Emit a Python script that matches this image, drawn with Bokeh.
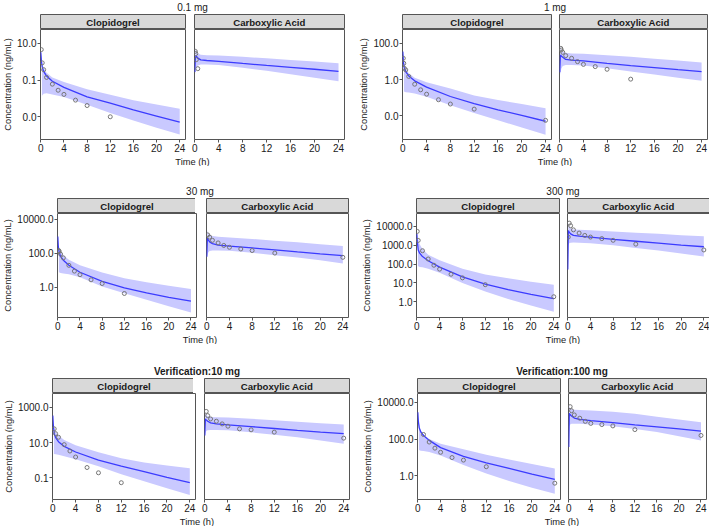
import numpy as np
from bokeh.plotting import figure
from bokeh.layouts import row, column
from bokeh.models import Range1d, FixedTicker, PrintfTickFormatter, Spacer
from bokeh.core.properties import value
from bokeh.embed import file_html
from bokeh.resources import INLINE

FONT = "Liberation Sans"

# ---------------- data ----------------
MODEL_T = [0, 0.1, 0.25, 0.5, 1, 2, 4, 8, 12, 16, 20, 24]
CLOP_BAND_T = [0.2, 0.5, 1, 2, 4, 8, 12, 16, 20, 24]
ACID_BAND_T = [0.1, 0.25, 0.5, 1, 2, 4, 8, 12, 16, 20, 24]
X_TICKS = [0, 4, 8, 12, 16, 20, 24]

FACETS = ["Clopidogrel", "Carboxylic Acid"]
TITLES = ["0.1 mg", "1 mg", "30 mg", "300 mg", "Verification:10 mg", "Verification:100 mg"]

# 0.1 mg
d01_clop_line = [3.3, 1.17, 0.51, 0.30, 0.166, 0.087, 0.040, 0.0123, 0.0055, 0.0024, 0.0011, 0.00051]
d01_clop_hi = [0.89, 0.45, 0.25, 0.14, 0.079, 0.032, 0.016, 0.0079, 0.0047, 0.0027]
d01_clop_lo = [0.014, 0.018, 0.019, 0.0166, 0.012, 0.0045, 0.0016, 0.00063, 0.00025, 0.000107]
d01_clop_obs_t = [0.083, 0.25, 0.5, 1, 2, 3, 4, 6, 8, 12]
d01_clop_obs = [4.6, 0.87, 0.37, 0.14, 0.060, 0.028, 0.0166, 0.0081, 0.0041, 0.0010]
d01_acid_line = [0.28, 1.78, 2.0, 1.58, 1.26, 1.17, 1.05, 0.81, 0.63, 0.50, 0.39, 0.30]
d01_acid_hi = [5.6, 3.5, 2.8, 2.4, 2.3, 2.2, 1.86, 1.55, 1.26, 1.02, 0.83]
d01_acid_lo = [0.2, 0.45, 0.63, 0.71, 0.71, 0.66, 0.47, 0.32, 0.21, 0.135, 0.087]
d01_acid_obs_t = [0.083, 0.167, 0.25, 0.5]
d01_acid_obs = [3.7, 2.8, 1.3, 0.42]

# 1 mg
d1_clop_line = [35, 9.8, 4.2, 2.75, 1.58, 0.85, 0.38, 0.115, 0.046, 0.021, 0.0105, 0.0049]
d1_clop_hi = [7.9, 4.0, 2.24, 1.26, 0.71, 0.32, 0.13, 0.074, 0.044, 0.026]
d1_clop_lo = [0.22, 0.2, 0.19, 0.166, 0.112, 0.038, 0.014, 0.0056, 0.0022, 0.00089]
d1_clop_obs_t = [0.083, 0.167, 0.25, 0.5, 1, 2, 3, 4, 6, 8, 12, 24]
d1_clop_obs = [15, 7.9, 4.2, 3.4, 1.48, 0.55, 0.27, 0.155, 0.076, 0.044, 0.023, 0.0055]
d1_acid_line = [2.5, 23, 20, 17, 13, 12, 10.7, 7.9, 5.9, 4.6, 3.5, 2.75]
d1_acid_hi = [71, 45, 35, 30, 28, 27, 22, 18, 14, 11.2, 8.7]
d1_acid_lo = [1.78, 4.0, 5.6, 6.3, 6.3, 5.9, 4.2, 2.8, 1.9, 1.26, 0.85]
d1_acid_obs_t = [0.167, 0.25, 0.5, 1, 2, 3, 4, 6, 8, 12]
d1_acid_obs = [53, 43, 32, 21, 15, 9.8, 6.9, 5.2, 3.7, 1.05]

# 30 mg
d30_clop_line = [1000, 250, 115, 68, 40, 20, 7.8, 2.3, 0.95, 0.48, 0.26, 0.155]
d30_clop_hi = [224, 126, 79, 42, 20, 7.6, 3.5, 2.0, 1.26, 0.81]
d30_clop_lo = [7.9, 7.1, 6.6, 6.0, 4.0, 1.12, 0.45, 0.19, 0.079, 0.034]
d30_clop_obs_t = [0.167, 0.25, 0.5, 1, 2, 3, 4, 6, 8, 12]
d30_clop_obs = [148, 130, 91, 55, 20, 9.1, 5.6, 2.8, 1.7, 0.44]
d30_acid_line = [63, 790, 650, 480, 380, 310, 270, 210, 162, 123, 95, 74]
d30_acid_hi = [2240, 1580, 1260, 1070, 950, 870, 710, 560, 450, 350, 270]
d30_acid_lo = [68, 112, 141, 151, 151, 145, 110, 79, 58, 40, 26]
d30_acid_obs_t = [0.167, 0.5, 1, 2, 3, 4, 6, 8, 12, 24]
d30_acid_obs = [1230, 910, 590, 415, 295, 230, 183, 148, 105, 59]

# 300 mg
d300_clop_line = [4000, 1500, 560, 380, 250, 150, 69, 21, 8.7, 4.4, 2.5, 1.48]
d300_clop_hi = [2500, 1120, 630, 316, 158, 56, 28, 17.8, 11.7, 8.1]
d300_clop_lo = [79, 71, 68, 56, 35, 10, 3.5, 1.41, 0.63, 0.30]
d300_clop_obs_t = [0.083, 0.25, 1, 2, 3, 4, 6, 8, 12, 24]
d300_clop_obs = [5400, 1800, 510, 186, 87, 54, 29, 18.6, 8.1, 1.86]
d300_acid_line = [52, 6000, 4900, 4000, 3300, 3000, 2700, 2040, 1620, 1290, 1000, 830]
d300_acid_hi = [15800, 10000, 7900, 6900, 6500, 6200, 5400, 4600, 4000, 3400, 2950]
d300_acid_lo = [1000, 1260, 1350, 1380, 1350, 1260, 1000, 720, 525, 363, 250]
d300_acid_obs_t = [0.083, 0.25, 0.5, 1, 2, 3, 4, 6, 8, 12, 24]
d300_acid_obs = [2700, 14800, 10800, 6500, 4400, 3300, 2700, 2240, 1820, 1140, 560]

# Verification 10 mg
v10_clop_line = [340, 93, 32, 19, 11.2, 6.0, 2.9, 1.0, 0.46, 0.22, 0.105, 0.052]
v10_clop_hi = [71, 40, 25, 14.1, 7.1, 2.8, 1.26, 0.74, 0.5, 0.34]
v10_clop_lo = [2.24, 2.14, 2.0, 1.66, 1.12, 0.45, 0.158, 0.063, 0.025, 0.0105]
v10_clop_obs_t = [0.25, 0.5, 1, 2, 3, 4, 6, 8, 12]
v10_clop_obs = [60, 32, 20, 7.6, 3.3, 1.5, 0.38, 0.19, 0.052]
v10_acid_line = [25, 220, 195, 163, 132, 115, 100, 81, 63, 49, 39, 32]
v10_acid_hi = [525, 380, 316, 288, 275, 263, 224, 186, 151, 126, 105]
v10_acid_lo = [32, 45, 50, 52, 52, 50, 38, 28, 20, 13.2, 8.5]
v10_acid_obs_t = [0.25, 0.5, 1, 2, 3, 4, 6, 8, 12, 24]
v10_acid_obs = [590, 340, 220, 163, 115, 85, 60, 53, 39, 17.8]

# Verification 100 mg
v100_clop_line = [2900, 930, 410, 257, 158, 85, 34, 11.5, 5.0, 2.5, 1.23, 0.63]
v100_clop_hi = [710, 316, 178, 100, 56, 28, 14.1, 7.6, 4.3, 2.5]
v100_clop_lo = [25, 23, 22, 20, 12.6, 3.8, 1.32, 0.52, 0.22, 0.102]
v100_clop_obs_t = [1, 2, 3, 4, 6, 8, 12, 24]
v100_clop_obs = [178, 69, 32, 19, 9.8, 7.1, 3.1, 0.39]
v100_acid_line = [37, 2570, 2140, 1820, 1410, 1200, 1020, 790, 590, 470, 360, 270]
v100_acid_hi = [6600, 5000, 4300, 4000, 3900, 3700, 3160, 2400, 1660, 1170, 830]
v100_acid_lo = [500, 630, 680, 690, 680, 630, 500, 355, 240, 141, 85]
v100_acid_obs_t = [0.25, 0.5, 1, 2, 3, 4, 6, 8, 12, 24]
v100_acid_obs = [5900, 3550, 2090, 1380, 930, 720, 620, 525, 330, 158]

Y_TICKS = [
    [10, 0.1, 0.001],
    [100, 1, 0.01],
    [10000, 100, 1],
    [10000, 1000, 100, 10, 1],
    [1000, 10, 0.1],
    [10000, 100, 1],
]

# ---------------- layout / styling ----------------
# log10 y limits per group
Y_LIMS = [(-4.24, 1.76), (-3.32, 2.77), (-1.77, 4.35), (-0.83, 4.68), (-2.24, 3.79), (-1.30, 4.49)]
# left border, left frame width, facet gap, right frame width, right pad
GEOM = [(40, 145, 9, 150, 10), (48, 149, 8, 148, 2),
        (54, 139, 10, 142, 9), (59, 143, 8, 142, 3),
        (48, 143, 9, 145, 9), (59, 143, 8, 138, 7)]
FRAME_H = [110, 104, 106]
ROW_GAP = [18, 20]
TITLE_H = 14
STRIP_H = 15
AXIS_B = 16
XLAB_H = 11
TITLE_BOLD = [False, False, False, False, True, True]

RIBBON = "#c9c9ff"
LINE = "#3b3bff"
POINT = "#767676"
BORDER = "#555555"
STRIP = "#d9d9d9"
TXT = "#1a1a1a"

def series(prefix):
    g = globals()
    out = []
    for sp in ("clop", "acid"):
        out.append(dict(
            line=g[f"{prefix}_{sp}_line"], hi=g[f"{prefix}_{sp}_hi"], lo=g[f"{prefix}_{sp}_lo"],
            obs_t=g[f"{prefix}_{sp}_obs_t"], obs=g[f"{prefix}_{sp}_obs"],
            band_t=CLOP_BAND_T if sp == "clop" else ACID_BAND_T))
    return out

GROUP_DATA = [series(p) for p in ("d01", "d1", "d30", "d300", "v10", "v100")]

def bare(fw, fh, left, right):
    f = figure(frame_width=fw, frame_height=fh, x_range=Range1d(0, 1), y_range=Range1d(0, 1),
               toolbar_location=None, output_backend="svg",
               x_axis_location=None, y_axis_location=None,
               min_border_left=left, min_border_right=right,
               min_border_top=0, min_border_bottom=0)
    f.grid.grid_line_color = None
    f.outline_line_color = None
    f.border_fill_color = "white"
    return f

def label_fig(text, fw, fh, left, right, bold=False, size="10px"):
    f = bare(fw, fh, left, right)
    f.text(x=[0.5], y=[0.5], text=[text], text_align="center", text_baseline="middle",
           text_font=value(FONT), text_font_size=size,
           text_font_style="bold" if bold else "normal", text_color=TXT)
    return f

def strip_fig(text, fw, left, right):
    f = bare(fw, STRIP_H, left, right)
    f.background_fill_color = STRIP
    f.outline_line_color = BORDER
    f.outline_line_width = 1
    f.text(x=[0.5], y=[0.5], text=[text], text_align="center", text_baseline="middle",
           text_font=value(FONT), text_font_size="9.6px", text_font_style="bold", text_color=TXT)
    return f

def panel(d, fw, fh, left, right, ylim, yticks, show_y):
    p = figure(frame_width=fw, frame_height=fh,
               x_range=Range1d(-0.05, 25), y_range=Range1d(10 ** ylim[0], 10 ** ylim[1]),
               y_axis_type="log", toolbar_location=None, output_backend="svg",
               y_axis_location="left" if show_y else None,
               min_border_left=left, min_border_right=right, min_border_top=0,
               min_border_bottom=AXIS_B)
    p.grid.grid_line_color = None
    p.outline_line_color = BORDER
    p.outline_line_width = 1
    p.background_fill_color = "white"
    p.border_fill_color = "white"

    p.varea(x=d["band_t"], y1=d["lo"], y2=d["hi"], fill_color=RIBBON, fill_alpha=1.0)
    p.line(x=MODEL_T, y=d["line"], line_color=LINE, line_width=1.3)
    p.scatter(x=d["obs_t"], y=d["obs"], marker="circle", size=4,
              fill_color=None, line_color=POINT, line_width=1)

    ax = p.xaxis[0]
    ax.ticker = FixedTicker(ticks=X_TICKS)
    ax.major_label_text_font = FONT
    ax.major_label_text_font_size = "10px"
    ax.major_label_text_color = TXT
    ax.major_tick_out = 3
    ax.major_tick_in = 0
    ax.minor_tick_line_color = None
    ax.major_tick_line_color = BORDER
    ax.axis_line_color = None
    ax.major_label_standoff = 1

    if show_y:
        ay = p.yaxis[0]
        ay.ticker = FixedTicker(ticks=yticks)
        ay.formatter = PrintfTickFormatter(format="%.1f")
        ay.major_label_text_font = FONT
        ay.major_label_text_font_size = "10px"
        ay.major_label_text_color = TXT
        ay.major_tick_out = 3
        ay.major_tick_in = 0
        ay.minor_tick_line_color = None
        ay.major_tick_line_color = BORDER
        ay.axis_line_color = None
        ay.major_label_standoff = 1
        ay.axis_label = "Concentration (ng/mL)"
        ay.axis_label_text_font = FONT
        ay.axis_label_text_font_size = "9.3px"
        ay.axis_label_text_font_style = "normal"
        ay.axis_label_text_color = TXT
        ay.axis_label_standoff = 1
    return p

def group(i):
    Lb, fL, gap, fR, pad = GEOM[i]
    fh = FRAME_H[i // 2]
    data = GROUP_DATA[i]
    span = fL + gap + fR
    title = label_fig(TITLES[i], span, TITLE_H, Lb, pad, bold=TITLE_BOLD[i])
    sL = strip_fig(FACETS[0], fL, Lb, 2)
    sR = strip_fig(FACETS[1], fR, gap - 2, pad)
    pL = panel(data[0], fL, fh, Lb, 2, Y_LIMS[i], Y_TICKS[i], True)
    pR = panel(data[1], fR, fh, gap - 2, pad, Y_LIMS[i], Y_TICKS[i], False)
    xlab = label_fig("Time (h)", span, XLAB_H, Lb, pad, size="9.3px")
    return column(title, row(column(sL, pL), column(sR, pR)), xlab)

layout = column(
    row(group(0), group(1)),
    Spacer(height=ROW_GAP[0]),
    row(group(2), group(3)),
    Spacer(height=ROW_GAP[1]),
    row(group(4), group(5)),
)

open("out.html", "w").write(file_html(layout, INLINE))
